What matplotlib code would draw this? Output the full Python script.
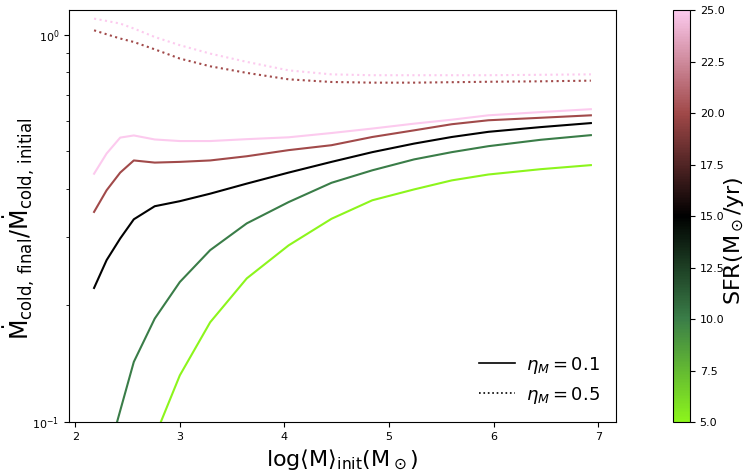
import numpy as np
import matplotlib
matplotlib.use("Agg")
import matplotlib.pyplot as plt
from matplotlib.colors import LinearSegmentedColormap, Normalize
from matplotlib.cm import ScalarMappable
from matplotlib.lines import Line2D

# log of initial mass (x grid)
log_m = [2.18, 2.30, 2.43, 2.56, 2.76, 3.00, 3.29, 3.64, 4.04, 4.45, 4.84, 5.24, 5.60, 5.95, 6.45, 6.93]

# SFR values of each curve
sfr_low = [5, 10, 15, 20, 25]
sfr_high = [20, 25]

# eta_M = 0.1 (solid)
ratio_sfr5 = [0.040, 0.050, 0.060, 0.075, 0.0915, 0.132, 0.181, 0.235, 0.286, 0.335, 0.374, 0.399, 0.421, 0.436, 0.450, 0.461]
ratio_sfr10 = [0.060, 0.080, 0.107, 0.143, 0.185, 0.230, 0.278, 0.326, 0.370, 0.415, 0.447, 0.477, 0.498, 0.516, 0.536, 0.551]
ratio_sfr15 = [0.222, 0.262, 0.298, 0.334, 0.361, 0.372, 0.389, 0.413, 0.441, 0.470, 0.498, 0.524, 0.545, 0.562, 0.578, 0.592]
ratio_sfr20 = [0.349, 0.397, 0.441, 0.474, 0.468, 0.470, 0.474, 0.486, 0.504, 0.519, 0.545, 0.567, 0.588, 0.602, 0.611, 0.620]
ratio_sfr25 = [0.438, 0.494, 0.543, 0.550, 0.537, 0.532, 0.532, 0.538, 0.544, 0.558, 0.573, 0.590, 0.604, 0.620, 0.632, 0.643]

# eta_M = 0.5 (dotted)
ratio_hi_sfr20 = [1.028, 1.004, 0.979, 0.959, 0.918, 0.869, 0.830, 0.798, 0.768, 0.756, 0.753, 0.753, 0.755, 0.757, 0.759, 0.762]
ratio_hi_sfr25 = [1.102, 1.087, 1.070, 1.039, 0.988, 0.941, 0.895, 0.852, 0.810, 0.791, 0.787, 0.787, 0.787, 0.787, 0.789, 0.791]

cmap = LinearSegmentedColormap.from_list(
    "sfr", ["#8cf51c", "#3a7d48", "black", "#a04848", "#fccaee"])
norm = Normalize(vmin=5, vmax=25)

fig = plt.figure(figsize=(7.48, 4.70), dpi=100)
ax = fig.add_axes([0.0922, 0.1021, 0.7313, 0.8766])
cax = fig.add_axes([0.8997, 0.1021, 0.0227, 0.8766])

for sfr, r in zip(sfr_low, [ratio_sfr5, ratio_sfr10, ratio_sfr15, ratio_sfr20, ratio_sfr25]):
    ax.plot(log_m, r, color=cmap(norm(sfr)), lw=1.5, ls="-")

for sfr, r in zip(sfr_high, [ratio_hi_sfr20, ratio_hi_sfr25]):
    ax.plot(log_m, r, color=cmap(norm(sfr)), lw=1.5, ls=":")

ax.set_yscale("log")
ax.set_ylim(0.1, 1.16)
ax.set_xlim(1.94, 7.17)
ax.tick_params(labelsize=8)
ax.set_xlabel(r"$\mathrm{log\langle M\rangle_{init}(M_\odot)}$", fontsize=16)
ax.set_ylabel(r"$\dot{\mathrm{M}}_{\mathrm{cold,\,final}}/\dot{\mathrm{M}}_{\mathrm{cold,\,initial}}$",
              fontsize=17)
ax.yaxis.set_label_coords(-0.059, 0.47)

handles = [Line2D([], [], color="black", lw=1.2, ls="-"),
           Line2D([], [], color="black", lw=1.2, ls=":")]
ax.legend(handles, [r"$\eta_M=0.1$", r"$\eta_M=0.5$"], loc="lower right",
          frameon=False, fontsize=13, handletextpad=0.6)

sm = ScalarMappable(norm=norm, cmap=cmap)
cb = fig.colorbar(sm, cax=cax)
cb.set_ticks([5, 7.5, 10, 12.5, 15, 17.5, 20, 22.5, 25])
cb.ax.tick_params(labelsize=8)
cb.set_label(r"$\mathrm{SFR(M_\odot/yr)}$", fontsize=16)
cb.ax.yaxis.set_label_coords(2.9, 0.44)

fig.savefig("out.png", dpi=100)
